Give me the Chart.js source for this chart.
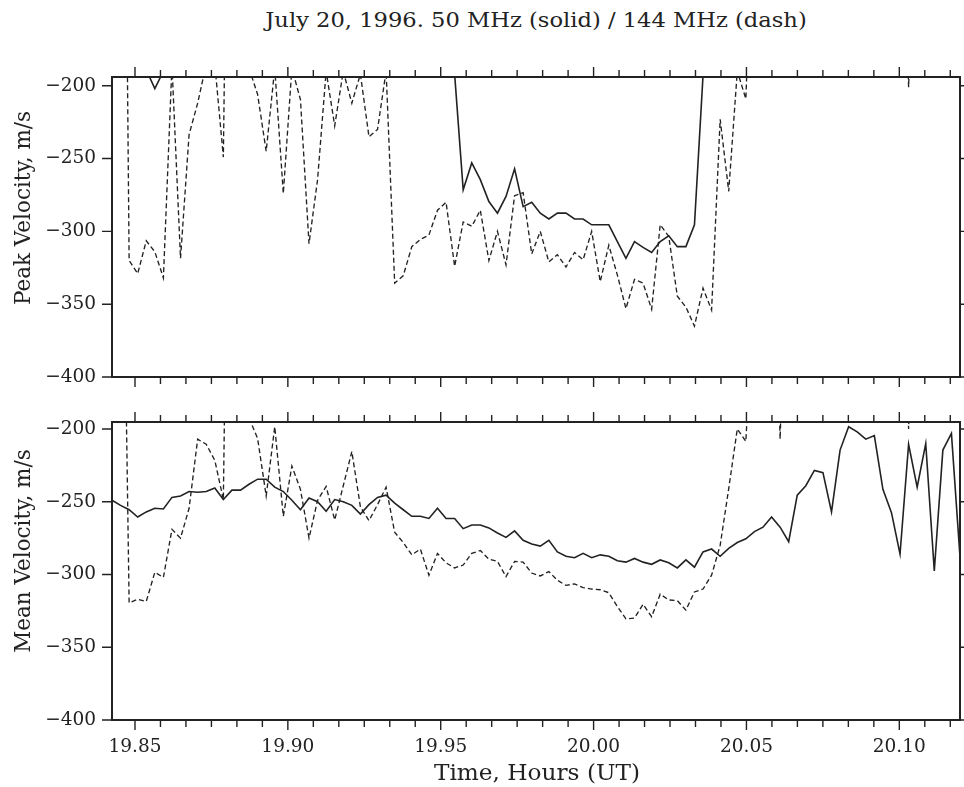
<!DOCTYPE html>
<html>
<head>
<meta charset="utf-8">
<script src="https://cdn.jsdelivr.net/npm/chart.js@4.4.1/dist/chart.umd.min.js"></script>
<style>
  html, body { margin: 0; padding: 0; background: #fff; }
  #wrap { position: relative; width: 964px; height: 787px; overflow: hidden;
          font-family: "DejaVu Serif", serif; color: #222; }
  canvas { position: absolute; left: 0; }
  #c1 { top: 0; width: 965px; height: 410px; }
  #c2 { top: 390px; width: 965px; height: 397px; }
  .lbl { position: absolute; white-space: nowrap; font-size: 20px; line-height: 1; }
</style>
</head>
<body>
<div id="wrap">
  <div class="lbl" id="title" style="left:536px;top:20px;transform:translate(-50%,-50%) scaleX(1.13);font-size:20px;">July 20, 1996. 50 MHz (solid) / 144 MHz (dash)</div>
  <canvas id="c1" width="965" height="410"></canvas>
  <canvas id="c2" width="965" height="397"></canvas>
  <div class="lbl" id="ylab1" style="left:23px;top:208px;transform:translate(-50%,-50%) rotate(-90deg);font-size:21.5px;">Peak Velocity, m/s</div>
  <div class="lbl" id="ylab2" style="left:23px;top:551px;transform:translate(-50%,-50%) rotate(-90deg);font-size:21.5px;">Mean Velocity, m/s</div>
  <div class="lbl" id="xlab" style="left:537px;top:773px;transform:translate(-50%,-50%) scaleX(1.08);font-size:21.5px;">Time, Hours (UT)</div>
</div>
<script>
// ---- time sampling (hours UT), one sample about every 10 s ----
const TIME_START = 19.84248;
const TIME_STEP = 0.0028017;
const X_MIN = 19.84248;
const X_MAX = 20.11985;

// ---- tick labels ----
const X_MAJOR = [19.85, 19.90, 19.95, 20.00, 20.05, 20.10];
const X_MINOR_STEP = 0.05 / 6;
const Y_TICKS = [-400, -350, -300, -250, -200];

// ---- Peak velocity (m/s), 50 MHz (solid); null = not shown / off scale ----
const peak50 = [
  null, null, null, null, -189, -202, -190, null, null, null,
  null, null, null, null, null, null, null, null, null, null,
  null, null, null, null, null, null, null, null, null, null,
  null, null, null, null, null, null, null, null, null, null,
  -192, -271.5, -253, -264.5, -279.5, -287.5, -276, -257, -283, -280,
  -287.5, -291.5, -287.5, -287.5, -291.5, -291.5, -295.5, -295.5, -295.5, -307,
  -318.5, -307, -311, -314.5, -307, -303, -310.5, -310.5, -295.5, -193,
  null, null, null, null, null, null, null, null, null, null,
  null, null, null, null, null, null, null, null, null, null,
  null, null, null, null, null, null, null, null, null, null
];

// ---- Peak velocity (m/s), 144 MHz (dash) ----
const peak144 = [
  300, 330, -320, -329, -306.5, -314, -332, -186, -318.5, -233.5,
  -212, -185, -185, -249, 222, null, -188, -206, -245, -188,
  -274, -188, -209.5, -308.5, -264.5, -190, -227.5, -190, -212, -192,
  -235, -230, -190, -335.5, -330.5, -310.5, -305.5, -302.5, -285.5, -280,
  -324, -293.5, -296.5, -285.5, -320, -300, -323, -275.5, -273.5, -315.5,
  -300, -321, -316, -324.5, -314.5, -319.5, -300, -334.5, -309.5, -330,
  -353, -333, -335.5, -353.5, -295.5, -303.5, -344.5, -352, -365, -339,
  -354, -223, -272.5, -190, -209, -47, null, null, null, null,
  null, null, null, null, null, null, null, null, null, null,
  null, null, 0, -201, 0, null, null, null, null, null
];

// ---- Mean velocity (m/s), 50 MHz (solid) ----
const mean50 = [
  -249, -252.5, -255.5, -260.5, -257, -254.5, -255, -247, -246, -243,
  -243.5, -243, -240.5, -248.5, -242, -242, -238, -234.5, -234.5, -240,
  -243, -249, -255.5, -247.5, -250, -256.5, -248.5, -250, -252.5, -258.5,
  -252, -247, -245.5, -251, -255.5, -260, -260, -261.5, -254.5, -261.5,
  -261.5, -268.5, -266, -266, -268, -271.5, -274.5, -270, -276.5, -279,
  -280.5, -276.5, -284.5, -287.5, -288.5, -285.5, -288.5, -286.5, -287.5, -290.5,
  -291.5, -289, -291.5, -293, -290, -292, -295.5, -290, -295, -284.5,
  -282.5, -287.5, -282, -278, -275.5, -270.5, -267.5, -260.5, -267.5, -277.5,
  -245.5, -239, -228.5, -230, -257, -214.5, -198.5, -202, -207, -204.5,
  -241.5, -257.5, -286, -210.5, -240, -210, -297.5, -214.5, -203, -288
];

// ---- Mean velocity (m/s), 144 MHz (dash) ----
const mean144 = [
  null, 80, -319.5, -317, -318.5, -298.5, -302, -269, -275, -254.5,
  -207, -210.5, -221.5, -248.5, 200, null, -192.5, -206.5, -246, -198.5,
  -260, -225.5, -241.5, -275, -249, -239.5, -262.5, -239, -215.5, -253.5,
  -263, -252, -240, -271, -278, -286.5, -282.5, -300.5, -285.5, -292,
  -295.5, -293.5, -285.5, -283.5, -289.5, -291, -301.5, -291, -291.5, -299,
  -301, -298, -304, -307.5, -306.5, -309, -310, -310.5, -312.5, -322,
  -330.5, -330, -320.5, -329, -313.5, -317.5, -318, -324.5, -312, -310,
  -300.5, -280, -241, -200, -208.5, -93, null, 0, -207, 0,
  null, null, null, null, null, null, null, null, null, null,
  null, null, 0, -200, 0, null, null, null, null, null
];

const times = peak50.map((_, i) => TIME_START + i * TIME_STEP);
const toXY = arr => arr.map((v, i) => ({ x: times[i], y: v }));

const INK = '#222222';
const FONT = { family: '"DejaVu Serif", serif', size: 18.5 };

const frameTicks = {
  id: 'frameTicks',
  afterDatasetsDraw(chart) {
    const { ctx, chartArea: a, scales: { x, y } } = chart;
    ctx.save();
    ctx.strokeStyle = INK;
    ctx.lineWidth = 1.4;
    ctx.beginPath();
    for (let i = -6; i <= 40; i++) {
      const v = 19.85 + i * X_MINOR_STEP;
      if (v < X_MIN - 1e-9 || v > X_MAX + 1e-9) continue;
      const px = x.getPixelForValue(v);
      if (px <= a.left + 1 || px >= a.right - 1) continue;
      const L = (i % 6 === 0) ? 10 : 7;
      ctx.moveTo(px, a.top); ctx.lineTo(px, a.top - L);
      ctx.moveTo(px, a.bottom); ctx.lineTo(px, a.bottom + L);
    }
    Y_TICKS.forEach(v => {
      const py = y.getPixelForValue(v);
      ctx.moveTo(a.left, py); ctx.lineTo(a.left - 10, py);
      ctx.moveTo(a.right, py); ctx.lineTo(a.right + 10, py);
    });
    ctx.stroke();
    ctx.lineWidth = 2;
    ctx.strokeRect(a.left, a.top, a.right - a.left, a.bottom - a.top);
    ctx.restore();
  }
};

function makeChart(id, solid, dashed, yMax, padTop, padBottom, showX) {
  return new Chart(document.getElementById(id), {
    type: 'line',
    data: {
      datasets: [
        { label: '50 MHz', data: toXY(solid), borderColor: INK, borderWidth: 1.6,
          pointRadius: 0, tension: 0, spanGaps: false, clip: 0 },
        { label: '144 MHz', data: toXY(dashed), borderColor: INK, borderWidth: 1.35,
          borderDash: [5, 3], pointRadius: 0, tension: 0, spanGaps: false, clip: 0 }
      ]
    },
    options: {
      responsive: false,
      animation: false,
      events: [],
      layout: { padding: { top: padTop, bottom: padBottom, left: 0, right: 5 } },
      plugins: { legend: { display: false }, title: { display: false }, tooltip: { enabled: false } },
      scales: {
        x: {
          type: 'linear', min: X_MIN, max: X_MAX, display: showX,
          grid: { display: false, drawTicks: false },
          border: { display: false },
          afterBuildTicks: s => { s.ticks = X_MAJOR.map(v => ({ value: v })); },
          afterFit: s => { s.height = showX ? 67 : 0; },
          ticks: { color: INK, font: FONT, padding: 16, maxRotation: 0, autoSkip: false,
                   callback: v => Number(v).toFixed(2) }
        },
        y: {
          type: 'linear', min: -400, max: yMax,
          grid: { display: false, drawTicks: false },
          border: { display: false },
          afterBuildTicks: s => { s.ticks = Y_TICKS.map(v => ({ value: v })); },
          afterFit: s => { s.width = 112; },
          ticks: { color: INK, font: FONT, padding: 16,
                   callback: v => String(v).replace('-', '\u2212') }
        }
      }
    },
    plugins: [frameTicks]
  });
}

// top panel: chart area y 77..377 ; bottom panel: chart area y 422..720
makeChart('c1', peak50, peak144, -194, 77, 33, false);
makeChart('c2', mean50, mean144, -195.2, 32, 0, true);
</script>
</body>
</html>
